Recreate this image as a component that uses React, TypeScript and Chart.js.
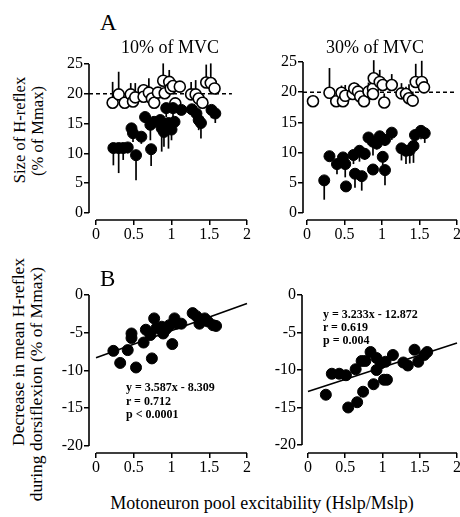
import React, { useEffect, useRef } from "react";
import { Chart, registerables } from "chart.js";
Chart.register(...registerables);

const FONT = "'Liberation Serif', 'Times New Roman', serif";

// ---- Panel A, 10% of MVC ----
const a10OpenX = [0.22, 0.30, 0.38, 0.46, 0.49, 0.52, 0.63, 0.63, 0.70, 0.74, 0.77, 0.82, 0.89, 0.91, 0.97, 0.99, 1.02, 1.05, 1.11, 1.26, 1.32, 1.36, 1.41, 1.46, 1.52, 1.57];
const a10OpenY = [18.5, 19.9, 18.5, 19.9, 18.7, 19.4, 20.6, 19.5, 20.2, 19.2, 18.5, 20.2, 22.2, 20.1, 22.0, 20.9, 21.3, 18.4, 21.2, 19.9, 19.9, 19.2, 18.5, 21.9, 21.8, 20.9];
const a10OpenErr = [3.5, 3.8, 1.0, 1.9, 0.5, 2.4, 1.0, 0.5, 2.4, 1.0, 0.5, 0.8, 2.9, 1.0, 2.0, 1.0, 1.0, 0.8, 0.8, 2.1, 2.4, 1.0, 0.5, 3.0, 3.3, 1.0];
const a10FillX = [0.23, 0.30, 0.36, 0.42, 0.47, 0.49, 0.53, 0.60, 0.65, 0.72, 0.73, 0.77, 0.85, 0.87, 0.90, 0.93, 0.96, 1.00, 1.02, 1.04, 1.13, 1.27, 1.33, 1.36, 1.39, 1.53, 1.58];
const a10FillY = [10.9, 10.9, 10.9, 11.0, 14.2, 13.4, 9.7, 12.8, 16.1, 14.8, 10.7, 15.3, 15.6, 14.2, 13.6, 17.6, 15.1, 14.0, 17.6, 15.3, 17.3, 17.4, 16.7, 15.6, 15.1, 17.3, 16.7];
const a10FillErr = [2.9, 4.2, 2.0, 1.0, 1.7, 1.5, 4.2, 1.2, 1.0, 2.6, 2.8, 1.0, 1.0, 3.9, 2.5, 1.5, 4.3, 1.8, 1.5, 1.0, 0.8, 1.0, 1.0, 1.7, 2.6, 1.4, 1.6];

// ---- Panel A, 30% of MVC ----
const a30OpenX = [0.08, 0.30, 0.39, 0.46, 0.48, 0.51, 0.61, 0.63, 0.68, 0.71, 0.76, 0.82, 0.88, 0.88, 0.89, 0.97, 1.01, 1.03, 1.13, 1.26, 1.32, 1.36, 1.41, 1.45, 1.53, 1.56];
const a30OpenY = [18.5, 19.9, 18.5, 19.9, 18.5, 19.4, 19.7, 20.6, 20.1, 19.3, 18.5, 20.1, 20.6, 19.7, 22.3, 21.7, 21.2, 18.3, 21.2, 19.8, 19.7, 19.0, 18.6, 21.7, 21.7, 20.8];
const a30OpenErr = [0.5, 4.1, 0.5, 1.2, 0.5, 1.8, 1.0, 1.0, 1.0, 0.5, 0.5, 1.5, 1.0, 0.5, 3.0, 2.0, 1.0, 1.5, 1.8, 1.7, 1.2, 2.3, 1.5, 3.0, 3.5, 0.5];
const a30FillX = [0.23, 0.30, 0.40, 0.48, 0.51, 0.52, 0.62, 0.64, 0.70, 0.73, 0.77, 0.82, 0.88, 0.88, 0.93, 0.97, 1.01, 1.04, 1.04, 1.13, 1.26, 1.32, 1.37, 1.42, 1.44, 1.52, 1.57];
const a30FillY = [5.4, 9.4, 8.1, 9.2, 8.1, 4.4, 9.6, 6.5, 10.3, 6.1, 9.8, 12.5, 11.8, 7.2, 11.5, 12.7, 9.3, 12.1, 7.1, 13.3, 10.7, 10.3, 10.4, 11.1, 12.9, 13.6, 13.2];
const a30FillErr = [3.2, 0.8, 1.7, 1.0, 2.2, 0.5, 1.5, 2.3, 1.8, 2.4, 1.0, 1.2, 2.3, 0.5, 1.0, 1.0, 1.4, 1.0, 2.5, 1.2, 2.0, 2.2, 2.2, 2.8, 1.0, 1.4, 1.6];

// ---- Panel B ----
const b10X = [0.23, 0.32, 0.42, 0.47, 0.47, 0.53, 0.63, 0.66, 0.72, 0.74, 0.77, 0.80, 0.87, 0.89, 0.93, 0.97, 1.01, 1.04, 1.07, 1.13, 1.28, 1.33, 1.37, 1.44, 1.48, 1.55, 1.59];
const b10Y = [-7.4, -9.0, -7.3, -5.7, -5.1, -9.6, -6.3, -4.6, -5.3, -8.4, -3.1, -4.4, -4.2, -5.1, -4.5, -4.0, -6.5, -3.1, -3.8, -3.8, -2.4, -2.8, -3.8, -3.1, -3.5, -4.0, -4.1];
const b30X = [0.24, 0.32, 0.42, 0.51, 0.54, 0.64, 0.66, 0.72, 0.74, 0.77, 0.84, 0.88, 0.92, 0.92, 0.98, 1.02, 1.04, 1.06, 1.14, 1.28, 1.34, 1.43, 1.48, 1.56, 1.60];
const b30Y = [-13.3, -10.5, -10.5, -10.7, -15.0, -9.9, -14.3, -8.8, -12.9, -8.8, -7.6, -11.9, -8.4, -10.0, -9.1, -11.3, -8.9, -11.3, -8.0, -9.0, -9.4, -7.3, -8.9, -8.0, -7.6];

const b10Slope = 3.587, b10Intercept = -8.309;
const b30Slope = 3.233, b30Intercept = -12.872;
const b10Stats = ["y = 3.587x - 8.309", "r = 0.712", "p < 0.0001"];
const b30Stats = ["y = 3.233x - 12.872", "r = 0.619", "p = 0.004"];

const xTicks = [0, 0.5, 1, 1.5, 2];
const aYTicks = [0, 5, 10, 15, 20, 25];
const bYTicks = [-20, -15, -10, -5, 0];
const refLevel = 20;

const pts = (xs: number[], ys: number[]) => xs.map((x, i) => ({ x, y: ys[i] }));

const errorBars = {
  id: "errorBars",
  beforeDatasetsDraw(chart: any) {
    const ctx = chart.ctx;
    const xs = chart.scales.x, ys = chart.scales.y;
    chart.data.datasets.forEach((ds: any) => {
      if (!ds.errors) return;
      ctx.save();
      ctx.strokeStyle = "#000";
      ctx.lineWidth = 1.7;
      ds.data.forEach((p: any, j: number) => {
        const e = ds.errors[j];
        if (!e) return;
        const px = xs.getPixelForValue(p.x);
        ctx.beginPath();
        ctx.moveTo(px, ys.getPixelForValue(p.y));
        ctx.lineTo(px, ys.getPixelForValue(p.y + ds.errDir * e));
        ctx.stroke();
      });
      ctx.restore();
    });
  },
};

const offsetAxes = {
  id: "offsetAxes",
  beforeDatasetsDraw(chart: any, _a: any, opts: any) {
    const ctx = chart.ctx;
    const { x, y } = chart.scales;
    const a = chart.chartArea;
    ctx.save();
    ctx.strokeStyle = "#000";
    ctx.lineWidth = 1.6;
    ctx.beginPath();
    ctx.moveTo(a.left, y.getPixelForValue(opts.yFrom));
    ctx.lineTo(a.left, y.getPixelForValue(opts.yTo));
    ctx.moveTo(x.getPixelForValue(opts.xFrom), a.bottom);
    ctx.lineTo(x.getPixelForValue(opts.xTo), a.bottom);
    ctx.stroke();
    ctx.restore();
  },
};

type PanelProps = {
  left: number; top: number; width: number; height: number;
  xMin: number; yMin: number; yMax: number; yTicks: number[];
  datasets: any[];
};

function Panel(p: PanelProps) {
  const ref = useRef<HTMLCanvasElement>(null);
  useEffect(() => {
    const chart = new Chart(ref.current as HTMLCanvasElement, {
      type: "scatter",
      data: { datasets: p.datasets },
      plugins: [errorBars, offsetAxes],
      options: {
        responsive: false,
        animation: false,
        events: [],
        layout: { padding: { top: 12, right: 10, left: 0, bottom: 0 } },
        plugins: {
          legend: { display: false },
          tooltip: { enabled: false },
          offsetAxes: { xFrom: 0, xTo: 2, yFrom: p.yTicks[0], yTo: p.yTicks[p.yTicks.length - 1] },
        } as any,
        scales: {
          x: {
            type: "linear",
            min: p.xMin,
            max: 2,
            afterBuildTicks: (s: any) => { s.ticks = xTicks.map((v) => ({ value: v })); },
            afterFit: (s: any) => { s.height = 30; },
            border: { display: false },
            grid: { display: true, drawOnChartArea: false, drawTicks: true, tickLength: 5, color: "#000", lineWidth: 1.5 },
            ticks: { color: "#000", font: { family: FONT, size: 16 }, padding: 0, maxRotation: 0, autoSkip: false, callback: (v: any) => String(v) },
          },
          y: {
            type: "linear",
            min: p.yMin,
            max: p.yMax,
            afterBuildTicks: (s: any) => { s.ticks = p.yTicks.map((v) => ({ value: v })); },
            afterFit: (s: any) => { s.width = 40; },
            border: { display: false },
            grid: { display: true, drawOnChartArea: false, drawTicks: true, tickLength: 5, color: "#000", lineWidth: 1.5 },
            ticks: { color: "#000", font: { family: FONT, size: 16 }, padding: 1, autoSkip: false, callback: (v: any) => String(v) },
          },
        },
      },
    });
    return () => chart.destroy();
  }, []);
  return (
    <canvas
      ref={ref}
      width={p.width}
      height={p.height}
      style={{ position: "absolute", left: p.left, top: p.top, width: p.width, height: p.height }}
    />
  );
}

const openSet = (xs: number[], ys: number[], errs: number[]) => ({
  data: pts(xs, ys), errors: errs, errDir: 1,
  pointRadius: 5.5, pointBackgroundColor: "#fff", pointBorderColor: "#000", pointBorderWidth: 1.6,
  showLine: false, clip: false, order: 2,
});
const fillSet = (xs: number[], ys: number[], errs: number[] | null) => ({
  data: pts(xs, ys), errors: errs, errDir: -1,
  pointRadius: 5.5, pointBackgroundColor: "#000", pointBorderColor: "#000", pointBorderWidth: 1,
  showLine: false, clip: false, order: 1,
});
const lineSet = (data: { x: number; y: number }[], dash: number[]) => ({
  data, showLine: true, pointRadius: 0, borderColor: "#000", borderWidth: 1.6, borderDash: dash, clip: false, order: 3,
});
const fitLine = (m: number, b: number) => [0, 2].map((x) => ({ x, y: m * x + b }));

const txt = (s: React.CSSProperties): React.CSSProperties => ({
  position: "absolute", fontFamily: FONT, color: "#000", whiteSpace: "nowrap", lineHeight: 1, ...s,
});

export default function App() {
  const tlXMin = -0.093, trXMin = -0.053, blXMin = -0.093, brXMin = -0.08;
  return (
    <div style={{ position: "absolute", left: 0, top: 0, width: 460, height: 517, overflow: "hidden", background: "#fff" }}>
      <Panel left={49} top={52} width={208} height={198} xMin={tlXMin} yMin={-1.174} yMax={25} yTicks={aYTicks}
        datasets={[fillSet(a10FillX, a10FillY, a10FillErr), openSet(a10OpenX, a10OpenY, a10OpenErr),
          lineSet([{ x: tlXMin, y: refLevel }, { x: 1.8, y: refLevel }], [4, 3])]} />
      <Panel left={263} top={50} width={204} height={200} xMin={trXMin} yMin={-1.16} yMax={25} yTicks={aYTicks}
        datasets={[fillSet(a30FillX, a30FillY, a30FillErr), openSet(a30OpenX, a30OpenY, a30OpenErr),
          lineSet([{ x: trXMin, y: refLevel }, { x: 2.0, y: refLevel }], [4, 3])]} />
      <Panel left={49} top={283} width={208} height={200} xMin={blXMin} yMin={-20.93} yMax={0} yTicks={bYTicks}
        datasets={[fillSet(b10X, b10Y, null), lineSet(fitLine(b10Slope, b10Intercept), [])]} />
      <Panel left={262} top={283} width={205} height={200} xMin={brXMin} yMin={-21.07} yMax={0} yTicks={bYTicks}
        datasets={[fillSet(b30X, b30Y, null), lineSet(fitLine(b30Slope, b30Intercept), [])]} />

      <div style={txt({ left: 100, top: 11, fontSize: 23 })}>A</div>
      <div style={txt({ left: 100, top: 267, fontSize: 23 })}>B</div>
      <div style={txt({ left: 170, top: 47, fontSize: 18, transform: "translate(-50%,-50%)" })}>10% of MVC</div>
      <div style={txt({ left: 375, top: 47, fontSize: 18, transform: "translate(-50%,-50%)" })}>30% of MVC</div>

      <div style={txt({ left: 20, top: 130, fontSize: 16.5, transform: "translate(-50%,-50%) rotate(-90deg)" })}>Size of H-reflex</div>
      <div style={txt({ left: 38, top: 131, fontSize: 16.5, transform: "translate(-50%,-50%) rotate(-90deg)" })}>(% of Mmax)</div>
      <div style={txt({ left: 19, top: 352, fontSize: 17.5, transform: "translate(-50%,-50%) rotate(-90deg)" })}>Decrease in mean H-reflex</div>
      <div style={txt({ left: 37, top: 384, fontSize: 17.5, transform: "translate(-50%,-50%) rotate(-90deg)" })}>during dorsiflexion (% of Mmax)</div>

      <div style={txt({ left: 262, top: 503, fontSize: 18, transform: "translate(-50%,-50%)" })}>Motoneuron pool excitability (Hslp/Mslp)</div>

      {b10Stats.map((s, i) => (
        <div key={s} style={txt({ left: 126, top: 381 + i * 13.5, fontSize: 12, fontWeight: "bold" })}>{s}</div>
      ))}
      {b30Stats.map((s, i) => (
        <div key={s} style={txt({ left: 323, top: 308 + i * 13, fontSize: 12, fontWeight: "bold" })}>{s}</div>
      ))}
    </div>
  );
}
